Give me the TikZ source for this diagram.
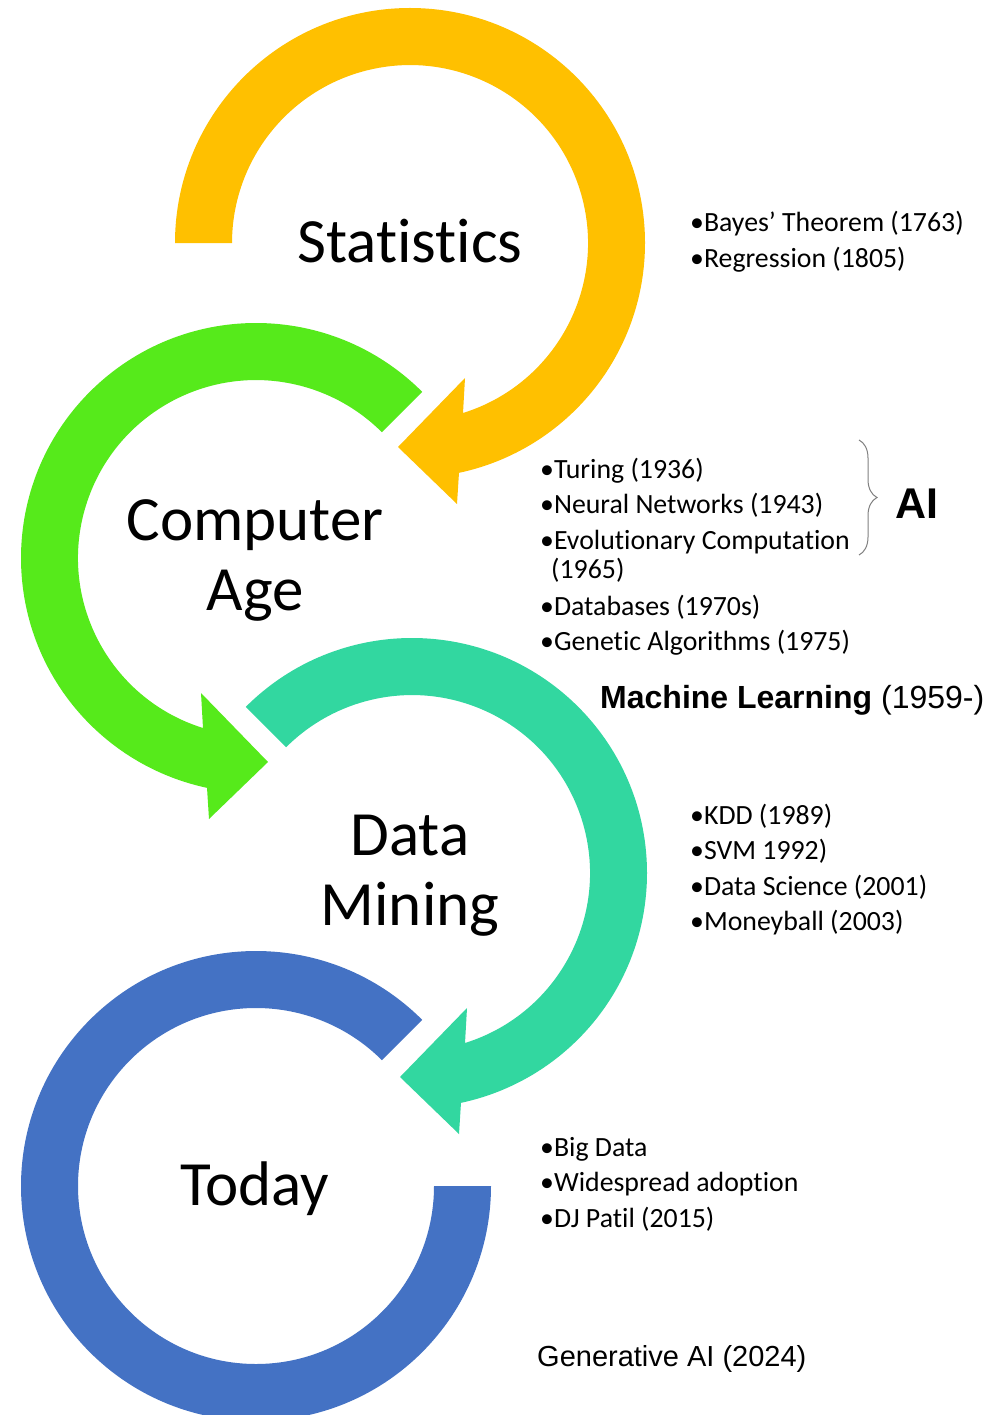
\documentclass[tikz,border=0pt]{standalone}
\usepackage{fontspec}
\setmainfont{Carlito}[Ligatures=NoCommon]
\newfontfamily\arialf{Liberation Sans}
\newcommand\tinolig{t\kern0pt i}
\usetikzlibrary{calc,decorations.pathreplacing}
\definecolor{cOrange}{HTML}{FFC000}
\definecolor{cGreen}{HTML}{56EA1B}
\definecolor{cTeal}{HTML}{32D7A0}
\definecolor{cBlue}{HTML}{4472C4}
\definecolor{cBrace}{HTML}{808080}
\begin{document}
\begin{tikzpicture}[x=1pt,y=-1pt,
  title/.style={font=\fontsize{63}{70}\selectfont, anchor=base, inner sep=0pt},
  item/.style={font=\fontsize{27.8}{33}\selectfont, anchor=base west, inner sep=0pt},
  armlabel/.style={font=\arialf\fontsize{32}{38}\selectfont, anchor=base west, inner sep=0pt}]
\useasboundingbox (0,0) rectangle (996,1415);
\clip (0,0) rectangle (996,1415);
\fill[white] (0,0) rectangle (996,1415);
% centres of the four circular arrows
\coordinate (oS) at (410,243);
\coordinate (oC) at (256,558);
\coordinate (oD) at (412,873);
\coordinate (oT) at (256,1186);
% Statistics (orange, clockwise)
\fill[cOrange] (oS) ++(180:235) arc[start angle=180,end angle=437.97,radius=235]
  -- ($(oS)+(47,261)$) -- ($(oS)+(-12,204)$) -- ($(oS)+(55,135)$) -- ($(oS)+(53,170)$)
  arc[start angle=432.68,end angle=180,radius=178] -- cycle;
% Computer Age (green, counter-clockwise)
\fill[cGreen] (oC) ++(315:235) arc[start angle=315,end angle=102.03,radius=235]
  -- ($(oC)+(-47,261)$) -- ($(oC)+(12,204)$) -- ($(oC)+(-55,135)$) -- ($(oC)+(-53,170)$)
  arc[start angle=107.32,end angle=315,radius=178] -- cycle;
% Data Mining (teal, clockwise)
\fill[cTeal] (oD) ++(225:235) arc[start angle=225,end angle=437.97,radius=235]
  -- ($(oD)+(47,261)$) -- ($(oD)+(-12,204)$) -- ($(oD)+(55,135)$) -- ($(oD)+(53,170)$)
  arc[start angle=432.68,end angle=225,radius=178] -- cycle;
% Today (blue)
\fill[cBlue] (oT) ++(315:235) arc[start angle=315,end angle=0,radius=235]
  -- ++(-57,0) arc[start angle=0,end angle=315,radius=178] -- cycle;
% titles
\node[title] (stat) at (410,262) {Statis\tinolig cs};
\node[title] (comp1) at (255,540) {Computer};
\node[title] (comp2) at (255,610) {Age};
\node[title] (dm1) at (410,855) {Data};
\node[title] (dm2) at (410,925) {Mining};
\node[title] (today) at (255,1205) {Today};
% Statistics items
\node[item] (s1) at (690,232) {•Bayes’ Theorem (1763)};
\node[item] (s2) at (690,267) {•Regression (1805)};
% Computer age items
\node[item] (c1) at (540,478) {•Turing (1936)};
\node[item] (c2) at (540,513) {•Neural Networks (1943)};
\node[item] (c3) at (540,549) {•Evolu\tinolig onary Computa\tinolig on};
\node[item] (c3b) at (551,578) {(1965)};
\node[item] (c4) at (540,615) {•Databases (1970s)};
\node[item] (c5) at (540,650) {•Gene\tinolig c Algorithms (1975)};
% AI brace
\coordinate (bt) at (859,440);
\coordinate (bb) at (859,555);
\draw[cBrace, line width=1pt, decorate, decoration={brace, amplitude=18pt}] (bt) -- (bb);
\node[anchor=base west, inner sep=0pt, font=\arialf\bfseries\fontsize{43}{50}\selectfont] (ai) at (895,518) {AI};
\node[armlabel] (ml) at (600,708) {\textbf{Machine Learning} (1959-)};
% Data mining items
\node[item] (d1) at (690,824) {•KDD (1989)};
\node[item] (d2) at (690,859) {•SVM 1992)};
\node[item] (d3) at (690,895) {•Data Science (2001)};
\node[item] (d4) at (690,930) {•Moneyball (2003)};
% Today items
\node[item] (t1) at (540,1156) {•Big Data};
\node[item] (t2) at (540,1191) {•Widespread adop\tinolig on};
\node[item] (t3) at (540,1227) {•DJ Pa\tinolig l (2015)};
\node[armlabel, font=\arialf\fontsize{29}{35}\selectfont] (gen) at (537,1366) {Generative AI (2024)};
\end{tikzpicture}
\end{document}
